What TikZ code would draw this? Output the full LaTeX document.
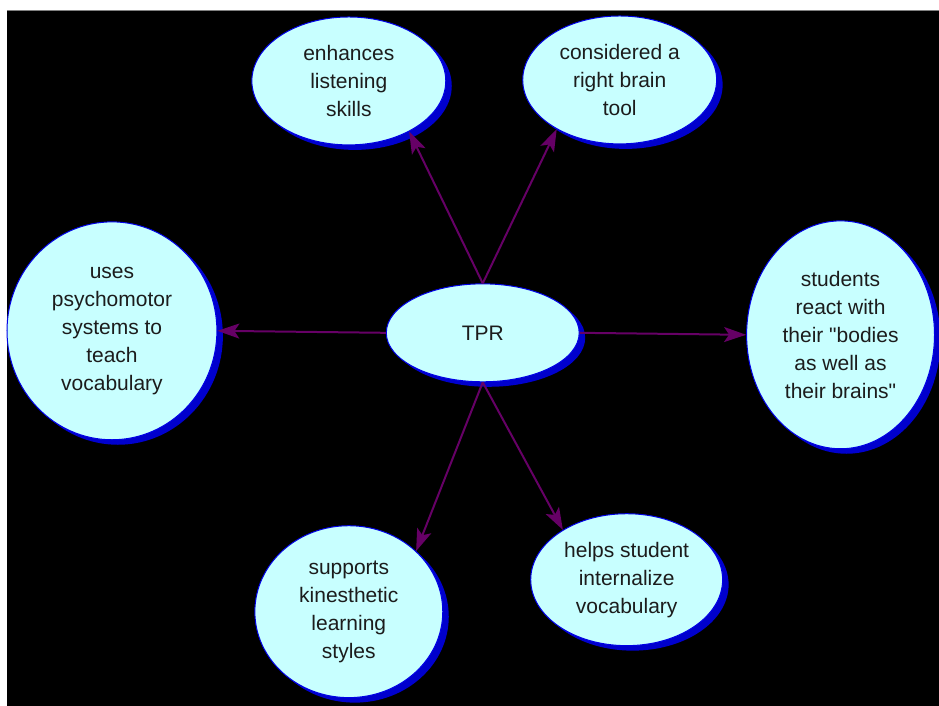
\documentclass[tikz,border=0pt]{standalone}
\usepackage{fontspec}
\setmainfont{Liberation Sans}[Ligatures=TeXOff]
\usetikzlibrary{shapes.geometric,arrows.meta,shadows}
\definecolor{bubblefill}{RGB}{200,255,255}
\definecolor{bubbleedge}{RGB}{0,0,230}
\definecolor{bubbleshadow}{RGB}{0,0,205}
\definecolor{linkcol}{RGB}{102,0,102}
\definecolor{inkcol}{RGB}{28,28,28}
\tikzset{
  bubble/.style={ellipse, draw=bubbleedge, line width=1pt, fill=bubblefill,
    inner sep=0pt, align=center, text=inkcol,
    font=\fontsize{21}{28}\selectfont,
    drop shadow={shadow xshift=6pt, shadow yshift=-5pt, fill=bubbleshadow, opacity=1}},
  link/.style={draw=linkcol, line width=2pt,
    -{Stealth[length=22pt, width=15pt, inset=5pt]}}
}
\begin{document}
\begin{tikzpicture}[x=1pt,y=1pt]
  % page frame: white margin on the top and left, black canvas
  \fill[white] (0,0) rectangle (939,706);
  \fill[black] (7,0) rectangle (939,695);
  \draw[gray, line width=1pt] (7,695.5) -- (939,695.5);
  \useasboundingbox (0,0) rectangle (939,706);

  % concept bubbles
  \node[bubble, minimum width=193pt, minimum height=98pt]  (tpr) at (483,373) {TPR};
  \node[bubble, minimum width=194pt, minimum height=128pt] (enh) at (349,625) {enhances\\listening\\skills};
  \node[bubble, minimum width=194pt, minimum height=128pt] (con) at (620,626) {considered a\\right brain\\tool};
  \node[bubble, minimum width=210pt, minimum height=218pt] (psy) at (112,375) {uses\\psychomotor\\systems to\\teach\\vocabulary};
  \node[bubble, minimum width=188pt, minimum height=228pt] (stu) at (841,371) {students\\react with\\their "bodies\\as well as\\their brains"};
  \node[bubble, minimum width=188pt, minimum height=172pt] (sup) at (349,94) {supports\\kinesthetic\\learning\\styles};
  \node[bubble, minimum width=192pt, minimum height=132pt] (hel) at (627,126) {helps student\\internalize\\vocabulary};

  % connectors from the central idea
  \draw[link] (tpr.north) -- (enh.-40);
  \draw[link] (tpr.north) -- (con.-142);
  \draw[link] (tpr.west) -- (psy.east);
  \draw[link] (tpr.east) -- (stu.west);
  \draw[link] (tpr.south) -- (sup.42);
  \draw[link] (tpr.south) -- (hel.142);
\end{tikzpicture}
\end{document}
